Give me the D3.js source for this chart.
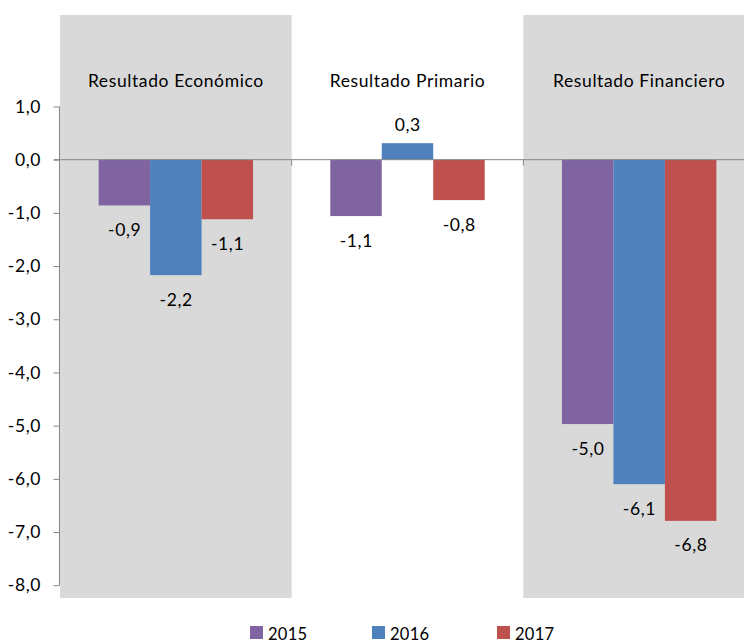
<!DOCTYPE html>
<html><head><meta charset="utf-8">
<script src="https://cdn.jsdelivr.net/npm/d3@7"></script>
<style>body{margin:0;background:#fff}svg{display:block}text{font-family:Lato,"Liberation Sans",sans-serif;fill:#000}</style>
</head><body><svg id="c" width="744" height="643"></svg>
<script>
const categories = ["Resultado Económico", "Resultado Primario", "Resultado Financiero"];
const series = ["2015", "2016", "2017"];
const v2015 = [-0.86, -1.06, -4.97];
const v2016 = [-2.17, 0.31, -6.10];
const v2017 = [-1.12, -0.76, -6.79];
const yTicks = [1, 0, -1, -2, -3, -4, -5, -6, -7, -8];
const shaded = ["Resultado Económico", "Resultado Financiero"];
const colors = ["#8064a2", "#4f81bd", "#c0504d"];

const values = [v2015, v2016, v2017];
const svg = d3.select("#c");
const W = 744;
const plot = {left: 60, right: 755, top: 15, bottom: 598};
const FS = 17.5, LS = 0.6;

const y = d3.scaleLinear().domain([-8.24, 2.72]).range([plot.bottom, plot.top]);
const x0 = d3.scaleBand().domain(categories).range([plot.left, plot.right]).paddingInner(0).paddingOuter(0);
const x1 = d3.scaleBand().domain(series).range([0, x0.bandwidth()]).paddingOuter(0.75).paddingInner(0);
const fmt = v => d3.format(".1f")(v).replace(".", ",").replace("−", "-");

// shaded bands
svg.append("g").selectAll("rect").data(shaded).join("rect")
  .attr("x", d => x0(d)).attr("width", x0.bandwidth())
  .attr("y", plot.top).attr("height", plot.bottom - plot.top)
  .attr("fill", "#d9d9d9");

// category titles
svg.append("g").selectAll("text").data(categories).join("text")
  .attr("x", d => x0(d) + x0.bandwidth() / 2).attr("y", 80)
  .attr("text-anchor", "middle").attr("dominant-baseline", "central")
  .attr("font-size", FS).attr("letter-spacing", LS).text(d => d);

// bars
const data = [];
categories.forEach((c, i) => series.forEach((s, j) => data.push({c, s, j, v: values[j][i]})));
svg.append("g").selectAll("rect").data(data).join("rect")
  .attr("x", d => x0(d.c) + x1(d.s)).attr("width", x1.bandwidth())
  .attr("y", d => y(Math.max(0, d.v))).attr("height", d => Math.abs(y(d.v) - y(0)))
  .attr("fill", d => colors[d.j]);

// bar labels
svg.append("g").selectAll("text").data(data).join("text")
  .attr("x", d => x0(d.c) + x1(d.s) + x1.bandwidth() / 2 + LS / 2)
  .attr("y", d => d.v >= 0 ? y(d.v) - 19 : y(d.v) + 24)
  .attr("text-anchor", "middle").attr("dominant-baseline", "central")
  .attr("font-size", FS).attr("letter-spacing", LS).text(d => fmt(d.v));

// y axis
const yAxis = d3.axisLeft(y).tickValues(yTicks).tickSize(6).tickFormat(fmt);
const gy = svg.append("g").attr("transform", `translate(${plot.left - 0.5},0)`).call(yAxis);
gy.select(".domain").attr("d", `M0,${y(1)}V${y(-8)}`).attr("stroke", "#868686");
gy.selectAll(".tick line").attr("stroke", "#868686");
gy.selectAll(".tick text").attr("font-size", FS).attr("letter-spacing", LS).attr("x", -18.5).attr("font-family", "Lato");

// zero line with category ticks
const gx = svg.append("g").attr("transform", `translate(0,${y(0)})`);
gx.append("line").attr("x1", plot.left - 6).attr("x2", W).attr("stroke", "#868686");
gx.selectAll(".ct").data(categories.slice(1)).join("line").attr("class", "ct")
  .attr("x1", d => x0(d)).attr("x2", d => x0(d)).attr("y1", 0).attr("y2", 6).attr("stroke", "#868686");

// legend
const legX = [250, 372, 497];
const lg = svg.append("g").selectAll("g").data(series).join("g")
  .attr("transform", (d, i) => `translate(${legX[i]},626)`);
lg.append("rect").attr("width", 13).attr("height", 13).attr("fill", (d, i) => colors[i]);
lg.append("text").attr("x", 18).attr("y", 7.5).attr("dominant-baseline", "central")
  .attr("font-size", 16.5).attr("letter-spacing", 0.3).text(d => d);
</script></body></html>
